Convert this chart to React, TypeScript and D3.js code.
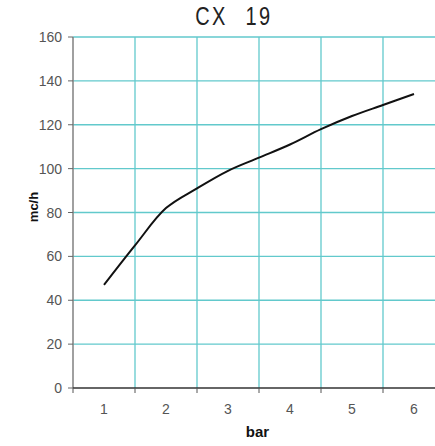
import React from "react";
import * as d3 from "d3";

// pressure (bar) vs flow (mc/h)
const pressure = [1, 1.5, 2, 2.5, 3, 3.5, 4, 4.5, 5, 5.5, 6];
const flow = [47, 65, 82, 91, 99, 105, 111, 118, 124, 129, 134];
const categories = ["1", "2", "3", "4", "5", "6"];
const yTicks = [0, 20, 40, 60, 80, 100, 120, 140, 160];
const titleParts = ["CX", "19"];

const W = 435;
const H = 446;
const margin = { top: 37, left: 73, bottom: 58, right: -10 };

const GRID = "#62c9cc";
const LABEL = "#555555";

const App = () => {
    const x = d3.scaleLinear()
        .domain([0.5, categories.length + 0.5])
        .range([margin.left, W - margin.right]);
    const y = d3.scaleLinear()
        .domain([0, 160])
        .range([H - margin.bottom, margin.top]);

    const line = d3.line<number>()
        .x((_, i) => x(pressure[i]))
        .y(d => y(d))
        .curve(d3.curveCatmullRom);

    const bottom = y(0);
    const separators = d3.range(0.5, categories.length + 0.5, 1);
    const titleX = [211.5, 259];

    return (
        <svg width={W} height={H} style={{ position: "absolute", left: 0, top: 0, background: "#fff" }}>
            {titleParts.map((t, i) => (
                <text key={t} transform={`translate(${titleX[i]},25) scale(0.8,1)`} textAnchor="middle"
                    fontFamily="Liberation Sans" fontSize={25} letterSpacing={3} fill="#222">{t}</text>
            ))}

            {/* horizontal grid */}
            {yTicks.filter(t => t > 0).map(t => (
                <line key={"h" + t} x1={margin.left} x2={W} y1={y(t)} y2={y(t)} stroke={GRID} strokeWidth={1.3} />
            ))}
            {/* vertical grid */}
            {separators.slice(1).map(s => (
                <line key={"v" + s} x1={x(s)} x2={x(s)} y1={margin.top} y2={bottom} stroke={GRID} strokeWidth={1.3} />
            ))}

            {/* y axis */}
            <line x1={margin.left} x2={margin.left} y1={margin.top} y2={bottom} stroke="#808080" strokeWidth={1.5} />
            {yTicks.map(t => (
                <g key={"yt" + t}>
                    <line x1={margin.left - 5} x2={margin.left} y1={y(t)} y2={y(t)} stroke="#666" />
                    <text x={margin.left - 11} y={y(t) + 5} textAnchor="end" fontFamily="Liberation Sans"
                        fontSize={14} fill={LABEL}>{t}</text>
                </g>
            ))}

            {/* x axis */}
            <line x1={margin.left} x2={W} y1={bottom} y2={bottom} stroke="#333" strokeWidth={1.3} />
            {separators.map(s => (
                <line key={"xt" + s} x1={x(s)} x2={x(s)} y1={bottom} y2={bottom + 5} stroke="#555" />
            ))}
            {categories.map((c, i) => (
                <text key={"xl" + c} x={x(i + 1)} y={bottom + 26} textAnchor="middle" fontFamily="Liberation Sans"
                    fontSize={14} fill={LABEL}>{c}</text>
            ))}

            <path d={line(flow) ?? ""} fill="none" stroke="#111" strokeWidth={2} />

            <text x={257.5} y={437} textAnchor="middle" fontFamily="Liberation Sans" fontWeight="bold"
                fontSize={15} fill="#111">bar</text>
            <text transform="translate(38,207) rotate(-90)" textAnchor="middle"
                fontFamily="Liberation Sans" fontWeight="bold" fontSize={13} fill="#111">mc/h</text>
        </svg>
    );
};

export default App;
